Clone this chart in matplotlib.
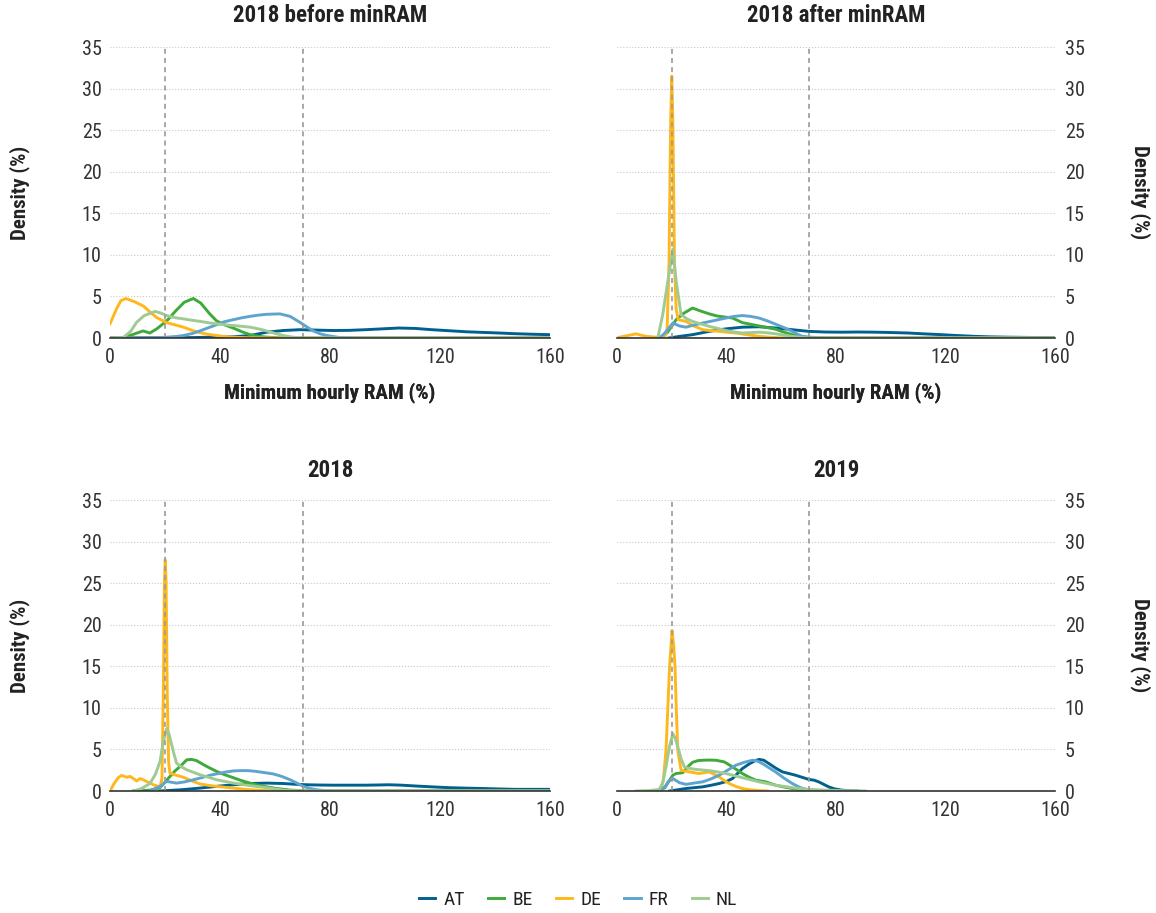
import matplotlib
matplotlib.use("Agg")
import matplotlib.pyplot as plt

plt.rcParams['font.family'] = ['Roboto Condensed', 'Liberation Sans Narrow', 'Roboto', 'DejaVu Sans']

countries = ['AT', 'BE', 'DE', 'FR', 'NL']
colors = ['#00608F', '#3DAA3A', '#FFB81C', '#5FA4CF', '#9ECB91']
titles = ['2018 before minRAM', '2018 after minRAM', '2018', '2019']
ref_lines = [20, 70]
x_ticks = [0, 40, 80, 120, 160]
y_ticks = [0, 5, 10, 15, 20, 25, 30, 35]

# 2018 before minRAM
pre_AT = [(0, 0), (30, 0.05), (45, 0.15), (51, 0.3), (57, 0.7), (63, 0.9), (69, 1.0), (75, 0.95),
          (81, 0.9), (87, 0.92), (93, 1.0), (99, 1.1), (105, 1.2), (111, 1.15), (117, 1.0),
          (123, 0.88), (129.5, 0.75), (135, 0.68), (141.6, 0.6), (147, 0.52), (153.7, 0.45), (160, 0.4)]
pre_BE = [(0, 0), (5, 0.05), (9, 0.5), (12, 0.85), (14.5, 0.6), (17, 1.1), (20.6, 2.05), (24, 3.3),
          (27, 4.3), (30.3, 4.75), (33, 4.2), (36.4, 2.85), (38.8, 2.05), (41.5, 1.6), (44.8, 1.2),
          (48, 0.75), (50.9, 0.4), (54, 0.2), (57, 0.1), (62, 0.02), (70, 0), (160, 0)]
pre_DE = [(0, 1.7), (2.5, 3.6), (4, 4.5), (5.8, 4.75), (9, 4.35), (12.1, 3.85), (15, 3.0),
          (17, 2.45), (20.6, 1.85), (24, 1.55), (26.7, 1.3), (30, 0.9), (32.7, 0.65), (35.5, 0.45),
          (38.8, 0.3), (41.5, 0.18), (44.8, 0.1), (50, 0.03), (60, 0), (160, 0)]
pre_FR = [(0, 0), (10, 0), (15, 0.03), (20, 0.08), (24, 0.18), (26.7, 0.3), (30, 0.55), (32.7, 0.85),
          (35.5, 1.2), (38.8, 1.6), (41.5, 1.95), (44.8, 2.2), (47.5, 2.4), (50.9, 2.6), (54, 2.75),
          (57, 2.85), (61.8, 2.9), (65.5, 2.6), (69, 1.9), (71.5, 1.35), (73.9, 0.85), (76.5, 0.5),
          (78.8, 0.3), (83.6, 0.05), (90, 0), (160, 0)]
pre_NL = [(0, 0), (4.8, 0.05), (7.5, 0.8), (9.7, 1.9), (12.5, 2.7), (16.4, 3.2), (18.5, 3.0),
          (20.6, 2.7), (23.5, 2.45), (26.7, 2.3), (29.5, 2.15), (32.7, 2.0), (35.5, 1.85), (38.8, 1.7),
          (41.5, 1.6), (44.8, 1.5), (47.5, 1.42), (50.9, 1.3), (54, 1.1), (57, 0.85), (60, 0.55),
          (63, 0.3), (66, 0.12), (69, 0.02), (75, 0), (160, 0)]

# 2018 after minRAM
post_AT = [(19, 0), (23, 0.2), (27.6, 0.4), (33.7, 0.8), (39.8, 1.1), (45.8, 1.3), (51.9, 1.35),
           (58, 1.2), (64, 1.0), (70, 0.8), (76, 0.72), (82.2, 0.7), (88, 0.72), (94.3, 0.7),
           (100, 0.66), (106.4, 0.6), (112, 0.5), (118.5, 0.4), (124, 0.3), (130.7, 0.2),
           (136, 0.14), (142.8, 0.1), (150, 0.07), (160, 0.05)]
post_BE = [(16, 0), (18.5, 0.7), (21.6, 2.2), (24.5, 3.0), (27.6, 3.6), (30.5, 3.25), (33.7, 2.9),
           (36.5, 2.65), (39.8, 2.5), (42.2, 2.4), (45.8, 1.85), (48.8, 1.65), (51.9, 1.45),
           (55, 1.25), (58, 1.05), (61, 0.7), (64, 0.4), (67, 0.2), (70, 0.1), (75, 0.03),
           (80, 0), (160, 0)]
post_DE = [(0, 0), (1, 0.1), (4, 0.3), (7, 0.5), (8.5, 0.35), (10.7, 0.2), (14, 0.1), (16.7, 0),
           (17.5, 0.2), (18.3, 1.0), (19, 9.0), (19.6, 26.0), (20, 31.5), (20.4, 26.0),
           (21, 9.0), (21.6, 3.5), (22.4, 2.2), (25.2, 2.0), (28, 1.45), (31.3, 1.0), (34, 0.9),
           (37.3, 0.8), (40, 0.7), (43.4, 0.6), (46.5, 0.45), (49.5, 0.3), (52.5, 0.18),
           (55.5, 0.1), (60, 0.02), (65, 0), (160, 0)]
post_FR = [(15.5, 0), (17.5, 0.6), (20.4, 1.8), (22.8, 1.45), (25.2, 1.3), (28, 1.55), (31.3, 1.8),
           (35.5, 2.1), (39.8, 2.4), (42.8, 2.6), (45.8, 2.7), (48.8, 2.6), (51.9, 2.4), (55, 2.05),
           (58, 1.65), (61, 1.25), (64, 0.8), (66, 0.45), (67.6, 0.2), (70, 0.05), (75, 0), (160, 0)]
post_NL = [(14.9, 0), (16.7, 2.8), (18.6, 6.9), (20.4, 10.7), (21.6, 6.9), (23.4, 2.8),
           (25.5, 2.3), (27.6, 2.0), (30.5, 1.7), (33.7, 1.4), (36.8, 1.15), (39.8, 0.9),
           (42.8, 0.72), (45.8, 0.6), (48.8, 0.65), (51.9, 0.7), (55, 0.62), (58, 0.5),
           (61, 0.35), (64, 0.2), (67, 0.08), (70, 0), (160, 0)]

# 2018
y18_AT = [(18, 0), (26, 0.15), (32.7, 0.35), (38.5, 0.55), (44.8, 0.75), (50.9, 0.9), (57, 0.95),
          (63, 0.9), (67, 0.82), (71.5, 0.75), (76, 0.72), (81, 0.7), (87, 0.7), (93, 0.7),
          (97, 0.72), (101.5, 0.75), (106, 0.7), (111.2, 0.6), (117, 0.5), (123.3, 0.4),
          (129, 0.35), (135.4, 0.3), (141, 0.25), (147.5, 0.2), (153, 0.2), (160, 0.2)]
y18_BE = [(8.5, 0), (14.5, 0.1), (18.2, 0.4), (21.8, 1.75), (23.6, 2.4), (25.5, 2.95), (27.9, 3.75),
          (29.7, 3.8), (31.5, 3.65), (33.3, 3.3), (35.2, 2.95), (38.8, 2.35), (41.8, 1.95),
          (44.8, 1.6), (47.8, 1.25), (50.9, 0.95), (54, 0.7), (57, 0.5), (60, 0.33), (63, 0.2),
          (66, 0.1), (69, 0.05), (75, 0), (160, 0)]
y18_DE = [(0, 0), (1.5, 0.9), (3, 1.6), (4.2, 1.87), (6.1, 1.65), (7.3, 1.75), (8.5, 1.5),
          (9.7, 1.2), (10.9, 1.5), (12.1, 1.35), (13.3, 1.15), (15.8, 0.75), (18.2, 0.5),
          (18.9, 1.5), (19.4, 12.0), (19.8, 25.0), (20.1, 27.8), (20.4, 25.0), (20.8, 12.0),
          (21.3, 3.5), (21.8, 2.15), (24, 1.9), (26.7, 1.65), (29.5, 1.25), (32.7, 0.85),
          (35.8, 0.68), (38.8, 0.55), (41.8, 0.45), (44.8, 0.35), (47.8, 0.25), (50.9, 0.15),
          (54, 0.1), (57, 0.05), (62, 0), (160, 0)]
y18_FR = [(14.5, 0), (18.2, 0.55), (20.6, 1.15), (22.4, 1.05), (24.2, 0.95), (27.2, 1.1), (30.3, 1.35),
          (33.3, 1.6), (36.4, 1.9), (39.4, 2.1), (42.4, 2.3), (45, 2.42), (47.3, 2.45), (50.3, 2.45),
          (53.3, 2.35), (56.4, 2.2), (59.4, 2.05), (62.5, 1.75), (65.5, 1.35), (68, 0.95),
          (70.3, 0.55), (72.8, 0.3), (75.2, 0.15), (78, 0.05), (81, 0), (160, 0)]
y18_NL = [(8.5, 0), (11.5, 0.3), (14.5, 0.9), (16.5, 2.0), (18.2, 3.55), (19.4, 6.0), (20.6, 7.5),
          (21.5, 6.8), (22.4, 5.6), (23.3, 4.4), (24.2, 3.35), (26, 2.9), (27.9, 2.55), (30.3, 2.25),
          (32.7, 1.95), (35.8, 1.65), (38.8, 1.35), (41.8, 1.15), (44.8, 0.95), (47.8, 0.8),
          (50.9, 0.65), (54, 0.52), (57, 0.4), (60, 0.25), (63, 0.1), (66, 0.04), (69, 0), (160, 0)]

# 2019
y19_AT = [(19.2, 0), (25.2, 0.3), (31.3, 0.5), (34.5, 0.7), (37.3, 0.9), (40, 1.15), (42.2, 1.5),
          (44, 2.1), (45.8, 2.7), (48.5, 3.3), (50.5, 3.65), (51.9, 3.8), (53.6, 3.7), (55.5, 3.3),
          (58, 2.75), (60.4, 2.3), (62.8, 2.1), (65.2, 1.9), (67.6, 1.65), (70, 1.4), (72, 1.3),
          (73.7, 1.1), (75.5, 0.8), (77.3, 0.5), (79.5, 0.25), (82.2, 0.1), (85, 0.03), (88, 0)]
y19_BE = [(15.5, 0), (17.5, 0.4), (19.2, 1.3), (20.4, 1.9), (21.6, 2.1), (24, 2.2), (25.8, 2.9),
          (27.6, 3.45), (29.5, 3.65), (31.3, 3.7), (33.7, 3.72), (36.1, 3.7), (39.2, 3.5),
          (40.7, 3.2), (42.2, 2.9), (44, 2.5), (45.8, 2.1), (48.3, 1.65), (50.7, 1.3), (54.3, 1.1),
          (57.9, 0.7), (61, 0.48), (64, 0.3), (67, 0.18), (70, 0.1), (75, 0.03), (80, 0)]
y19_DE = [(15, 0), (16.1, 0.1), (17, 1.5), (17.9, 4.9), (18.5, 9.5), (19.2, 14.9), (20.1, 19.3),
          (20.7, 17.5), (21.2, 14.9), (21.7, 9.5), (22.2, 4.9), (23.4, 2.5), (26.4, 2.3),
          (30, 2.1), (33.7, 2.3), (35.5, 2.0), (37.3, 1.7), (39, 1.3), (41, 0.9), (43.4, 0.55),
          (45.8, 0.3), (48.5, 0.15), (51.9, 0.05), (55, 0)]
y19_FR = [(15.5, 0), (17.5, 0.5), (18.9, 1.2), (20.4, 1.5), (22.8, 1.0), (25.2, 0.8), (28, 0.95),
          (31.3, 1.1), (34.3, 1.45), (37.3, 1.9), (40.4, 2.5), (43.4, 3.1), (46.5, 3.45),
          (49.5, 3.7), (51.3, 3.6), (53.1, 3.3), (55.5, 2.8), (57.9, 2.3), (61, 1.55), (64, 0.9),
          (67, 0.4), (70, 0.1), (74, 0)]
y19_NL = [(7, 0), (12, 0.05), (15.5, 0.2), (16.7, 1.0), (17.9, 2.9), (19.2, 5.4), (20.4, 6.9),
          (21.3, 6.3), (22.2, 5.3), (23.4, 3.9), (24.6, 2.9), (26.7, 2.7), (28.8, 2.6), (31.3, 2.52),
          (33.7, 2.45), (36.7, 2.3), (39.8, 2.1), (42.8, 1.85), (45.8, 1.6), (48.8, 1.35),
          (51.9, 1.1), (54.9, 0.9), (57.9, 0.7), (61, 0.55), (64, 0.4), (67, 0.28), (70, 0.2),
          (76, 0.1), (83, 0.04), (90.7, 0)]

panels = [
    [pre_AT, pre_BE, pre_DE, pre_FR, pre_NL],
    [post_AT, post_BE, post_DE, post_FR, post_NL],
    [y18_AT, y18_BE, y18_DE, y18_FR, y18_NL],
    [y19_AT, y19_BE, y19_DE, y19_FR, y19_NL],
]

fig = plt.figure(figsize=(11.56, 9.13), dpi=100)
W, H = 1156, 913
boxes = [(110, 47, 550, 338), (617, 47, 1055, 338),
         (110, 500, 550, 791), (617, 500, 1055, 791)]

for i, (box, series) in enumerate(zip(boxes, panels)):
    x0, y0, x1, y1 = box
    ax = fig.add_axes([x0 / W, 1 - y1 / H, (x1 - x0) / W, (y1 - y0) / H])
    right = i % 2 == 1

    for pts, name, c in zip(series, countries, colors):
        xs = [p[0] for p in pts]
        ys = [p[1] for p in pts]
        ax.plot(xs, ys, color=c, lw=2.1, label=name, solid_joinstyle='round', zorder=3)

    for xv in ref_lines:
        ax.plot([xv, xv], [0, 35], color='#9a9a9a', lw=1.2, ls=(0, (3, 2.5)), zorder=4)

    ax.set_xlim(0, 160)
    ax.set_ylim(0, 35)
    ax.set_xticks(x_ticks)
    ax.set_yticks(y_ticks)
    ax.grid(axis='y', color='#c8c8c8', lw=0.8, ls=':', zorder=0)
    ax.grid(axis='x', visible=False)
    for s in ['top', 'left', 'right']:
        ax.spines[s].set_visible(False)
    ax.spines['bottom'].set_color('#333333')
    ax.spines['bottom'].set_linewidth(1.2)
    ax.spines['bottom'].set_zorder(5)
    ax.tick_params(length=0, labelsize=14.5, colors='#333333')
    ax.tick_params(axis='x', pad=7)
    if right:
        ax.yaxis.tick_right()
        ax.tick_params(axis='y', pad=7)
    else:
        ax.tick_params(axis='y', pad=6)

    ax.set_xlabel('Minimum hourly RAM (%)', fontsize=15, fontweight='bold', color='#222222')
    ax.xaxis.set_label_coords(0.5, -(393 - y1) / (y1 - y0))
    ax.xaxis.label.set_va('center')
    ax.set_ylabel('Density (%)', fontsize=15, fontweight='bold', color='#222222')
    if right:
        ax.yaxis.set_label_position('right')
        ax.yaxis.label.set_rotation(270)
        ax.yaxis.set_label_coords((1140 - x0) / (x1 - x0), 0.5)
    else:
        ax.yaxis.set_label_coords((20 - x0) / (x1 - x0), 0.5)
    ax.yaxis.label.set_va('center')

    title_y = 15 if i < 2 else 470
    ax.text(0.5, (y1 - title_y) / (y1 - y0), titles[i], transform=ax.transAxes,
            ha='center', va='center', fontsize=16.5, fontweight='bold', color='#222222')

    if i == 0:
        handles, labels = ax.get_legend_handles_labels()

fig.legend(handles, labels, loc='center', bbox_to_anchor=(0.5, 1 - 900 / H), ncol=5,
           frameon=False, fontsize=14, handlelength=0.85, handletextpad=0.4,
           columnspacing=1.2, labelcolor='#222222')

fig.savefig('out.png', dpi=100)
